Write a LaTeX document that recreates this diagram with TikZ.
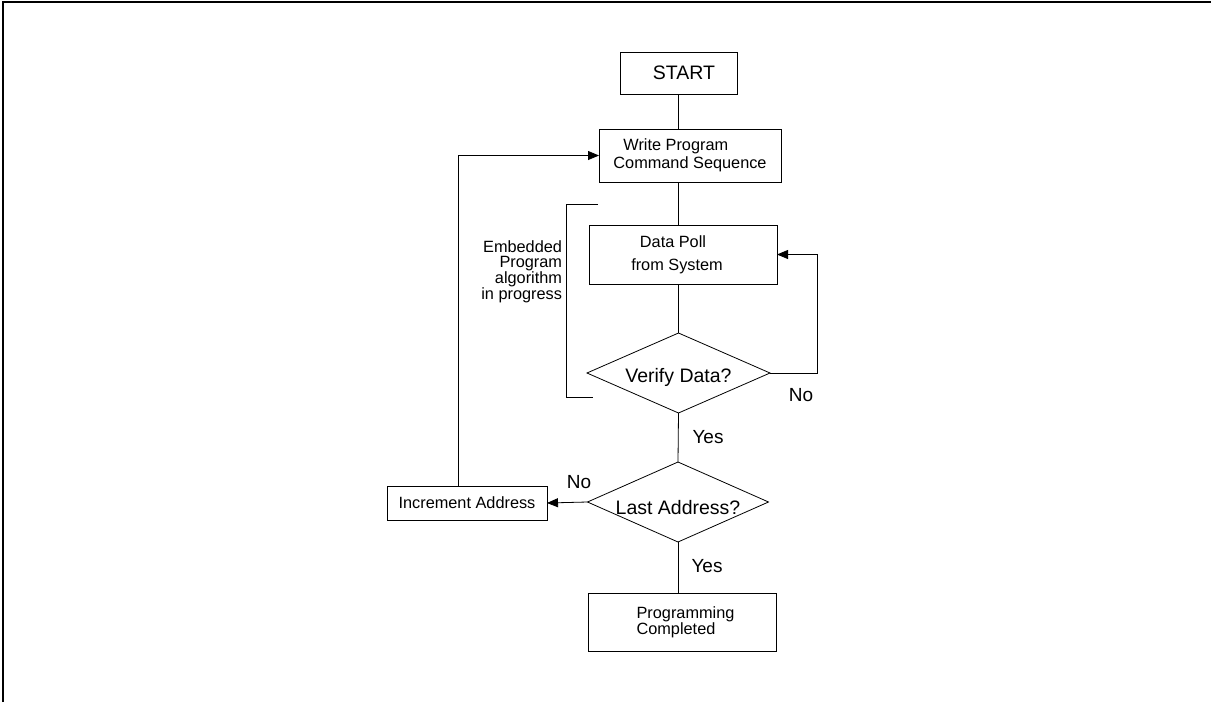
\documentclass[tikz,border=0pt]{standalone}
\usepackage{fontspec}
\setmainfont{Liberation Sans}
\usetikzlibrary{shapes.geometric,arrows.meta}
\newcommand{\flowsmall}{\fontsize{16.3}{17.5}\selectfont}
\newcommand{\flowbig}{\fontsize{19.5}{21}\selectfont}
\newcommand{\flowlabel}{\fontsize{19}{21}\selectfont}
\begin{document}
\begin{tikzpicture}[x=1pt,y=-1pt,inner sep=0pt,outer sep=0pt,line width=0.8pt,
procbox/.style={draw,rectangle,inner sep=0pt,line width=0.8pt,font=\flowsmall},
decision/.style={draw,diamond,aspect=2.29,inner sep=0pt,line width=0.8pt,font=\flowbig},
flowarrow/.style={-{Triangle[length=11pt,width=9pt]}}]
\useasboundingbox (0,0) rectangle (1211,702);
\draw[line width=2.3pt] (2.8,702) -- (2.8,2.2) -- (1211,2.2);
\draw (678.5,73) node[procbox,minimum width=117pt,minimum height=42pt,font=\flowbig] (start) {\hspace*{11pt}START};
\draw (690,155.5) node[procbox,minimum width=182pt,minimum height=53pt,align=left] (write) {\hspace*{10pt}Write Program\\Command Sequence};
\draw (683,254.5) node[procbox,minimum width=188pt,minimum height=59pt,align=center,font=\fontsize{16.3}{23}\selectfont] (poll) {Data Poll\hspace*{20pt}\\from System\hspace*{12pt}};
\draw (678.5,373) node[decision,minimum width=183pt,minimum height=80pt] (verify) {\raisebox{-4pt}[\height][\depth]{Verify Data?}};
\draw (678,502) node[decision,minimum width=181pt,minimum height=80pt] (last) {\raisebox{-6pt}[\height][\depth]{Last Address?}};
\draw (467,503) node[procbox,minimum width=160pt,minimum height=34pt] (incr) {Increment Address};
\draw (682,622) node[procbox,minimum width=188pt,minimum height=58pt,align=left,font=\fontsize{16.3}{16}\selectfont] (done) {\hspace*{7pt}Programming\\\hspace*{7pt}Completed};
\draw (562,272) node[anchor=east,align=right,font=\fontsize{16.3}{14.7}\selectfont] (embed) {Embedded\\Program\\algorithm\\in progress};
% connectors
\draw (start.south) -- (start.south |- write.north);
\draw (start.south |- write.south) -- (start.south |- poll.north);
\draw (verify.north |- poll.south) -- (verify.north);
\draw (verify.south) -- (last.north);
\draw (last.south) -- (last.south |- done.north);
\draw[flowarrow] (verify.east) -- ++(47,0) |- (poll.east);
\draw[flowarrow] (last.west) -- (incr.east);
\coordinate (loopx) at (458,156);
\draw[flowarrow] (incr.north -| loopx) |- (write.west);
% bracket
\coordinate (brtop) at (598,204);
\coordinate (brbot) at (593,397);
\draw (brtop) -- (566,204) -- (566,397) -- (brbot);
% labels
\draw (801,395) node[font=\flowlabel] (vno) {No};
\draw (708,437) node[font=\flowlabel] (vyes) {Yes};
\draw (579,482) node[font=\flowlabel] (lno) {No};
\draw (707,566) node[font=\flowlabel] (lyes) {Yes};
\end{tikzpicture}
\end{document}
